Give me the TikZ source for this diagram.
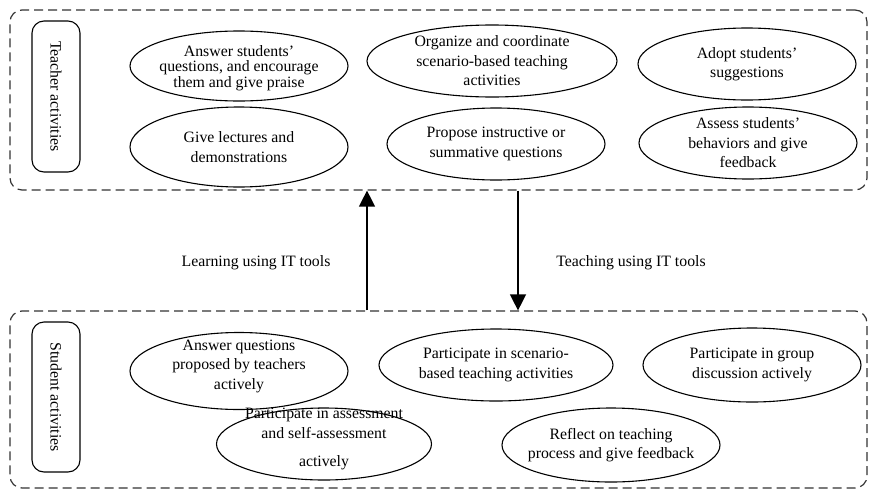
\documentclass[tikz,border=0pt]{standalone}
\usepackage{fontspec}
\setmainfont{Liberation Serif}
\usetikzlibrary{arrows.meta,positioning,shapes}

\begin{document}
\begin{tikzpicture}[x=1pt,y=-1pt,inner sep=0pt]
  \tikzstyle{grp}=[draw=black!80,dash pattern=on 9pt off 5pt,line width=1.2pt,rounded corners=12pt,minimum width=857pt]
  \tikzstyle{role}=[draw,line width=1.1pt,rounded corners=12pt,rotate=-90,minimum height=48pt,font=\fontsize{15.8}{19}\selectfont]
  \tikzstyle{v}=[ellipse,draw,line width=1.1pt,minimum width=218pt,minimum height=72pt]
  \tikzstyle{t}=[align=center,font=\fontsize{15.8}{19.5}\selectfont]
  \useasboundingbox(0,0)rectangle(869,490);
  % the two activity groups
  \node[grp,minimum height=180pt](teach)at(438.5,100){};
  \node[grp,minimum height=177pt](stud)at(438.5,399.5){};
  \node[role,minimum width=151pt](tlab)at(56,96.5){Teacher activities};
  \node[role,minimum width=150pt](slab)at(56,397){Student activities};
  % teacher side
  \node[v,minimum height=70pt,label={[t,yshift=-2pt,font=\fontsize{15.8}{15.5}\selectfont]center:Answer students'\\questions, and encourage\\them and give praise}](ta1)at(239,66){};
  \node[v,minimum width=250pt,label={[t]center:Organize and coordinate\\scenario-based teaching\\activities}](ta2)at(492,61){};
  \node[v,label={[t]center:Adopt students'\\suggestions}](ta3)at(747,64){};
  \node[v,minimum height=80pt,label={[t]center:Give lectures and\\demonstrations}](ta4)at(239,147){};
  \node[v,label={[t]center:Propose instructive or\\summative questions}](ta5)at(496,144){};
  \node[v,label={[t]center:Assess students'\\behaviors and give\\feedback}](ta6)at(748,143){};
  % student side
  \node[v,minimum height=77pt,label={[t,yshift=5pt]center:Answer questions\\proposed by teachers\\actively}](sa1)at(239,371){};
  \node[v,minimum width=234pt,label={[t]center:Participate in scenario-\\based teaching activities}](sa2)at(496,365){};
  \node[v,minimum height=74pt,label={[t]center:Participate in group\\discussion actively}](sa3)at(752,365){};
  \node[v,minimum width=215pt,label={[t,yshift=5pt]center:Participate in assessment\\and self-assessment\\[9pt]actively}](sa4)at(324,444){};
  \node[v,minimum height=74pt,label={[t]center:Reflect on teaching\\process and give feedback}](sa5)at(611,445){};
  % IT tools in both directions
  \node[t](lrn)at(256,263){Learning using IT tools};
  \node[t](tch)at(631,263){Teaching using IT tools};
  \tikzstyle{e}=[-{Triangle[width=16pt,length=16pt]},line width=1.3pt]
  \draw[e]([xshift=-71.5pt]stud.north)--([xshift=-71.5pt]teach.south);
  \draw[e]([xshift=79.5pt]teach.south)--([xshift=79.5pt]stud.north);
\end{tikzpicture}
\end{document}
